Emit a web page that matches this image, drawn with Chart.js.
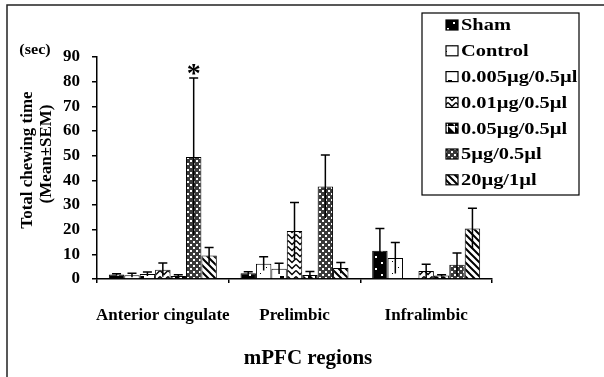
<!DOCTYPE html>
<html>
<head>
<meta charset="utf-8">
<script src="https://cdn.jsdelivr.net/npm/chart.js@4.4.1/dist/chart.umd.min.js"></script>
<style>
  html, body { margin: 0; padding: 0; background: #fff; }
  #wrap { width: 604px; height: 377px; }
</style>
</head>
<body>
<div id="wrap"><canvas id="chewChart" width="604" height="377"></canvas></div>
<script>
const regions = ['Anterior cingulate', 'Prelimbic', 'Infralimbic'];
const groupNames = ['Sham', 'Control', '0.005µg/0.5µl', '0.01µg/0.5µl', '0.05µg/0.5µl', '5µg/0.5µl', '20µg/1µl'];
const yTicks = [0, 10, 20, 30, 40, 50, 60, 70, 80, 90];

// mean values per region
const sham = [1.8, 2.3, 11.5];
const control = [1.5, 6.2, 8.5];
const dose0005 = [2.0, 4.2, 0];
const dose001 = [3.7, 19.5, 3.2];
const dose005 = [1.2, 1.6, 1.4];
const dose5 = [49.5, 37.5, 5.8];
const dose20 = [9.5, 4.5, 20.5];

// SEM per region
const shamErr = [0.3, 0.6, 9.0];
const controlErr = [0.8, 2.8, 6.3];
const dose0005Err = [0.8, 2.2, 0];
const dose001Err = [2.8, 11.5, 2.8];
const dose005Err = [0.5, 1.4, 0.3];
const dose5Err = [32, 12.8, 4.7];
const dose20Err = [3.3, 2.2, 8.2];

// [group index, region index] marked with *
const significant = [[5, 0]];

const SERIF = '"Liberation Serif", "Times New Roman", serif';

function makePattern(w, h, draw) {
  const c = document.createElement('canvas');
  c.width = w; c.height = h;
  const g = c.getContext('2d');
  draw(g, w, h);
  return g.createPattern(c, 'repeat');
}

const patterns = [
  // sham: black, sparse white dots
  makePattern(12, 12, (g, w, h) => {
    g.fillStyle = '#000'; g.fillRect(0, 0, w, h);
    g.fillStyle = '#fff'; g.fillRect(3, 4, 2, 2); g.fillRect(9, 10, 2, 2);
  }),
  // control: white, few dots
  makePattern(12, 12, (g, w, h) => {
    g.fillStyle = '#fff'; g.fillRect(0, 0, w, h);
    g.fillStyle = '#000'; g.fillRect(2, 3, 1, 1); g.fillRect(8, 9, 1, 1);
  }),
  // 0.005: white with small blocks
  makePattern(14, 14, (g, w, h) => {
    g.fillStyle = '#fff'; g.fillRect(0, 0, w, h);
    g.fillStyle = '#000'; g.fillRect(0, 10, 4, 3);
  }),
  // 0.01: chevrons
  makePattern(8, 6, (g, w, h) => {
    g.fillStyle = '#fff'; g.fillRect(0, 0, w, h);
    g.strokeStyle = '#000'; g.lineWidth = 1.4;
    g.beginPath(); g.moveTo(0, 0.5); g.lineTo(4, 4.5); g.lineTo(8, 0.5); g.stroke();
  }),
  // 0.05: half black triangles
  makePattern(7, 7, (g, w, h) => {
    g.fillStyle = '#fff'; g.fillRect(0, 0, w, h);
    g.fillStyle = '#000';
    g.beginPath(); g.moveTo(0, 0); g.lineTo(0, h); g.lineTo(w, h); g.closePath(); g.fill();
  }),
  // 5µg: dark checker with white dots
  makePattern(6, 6, (g, w, h) => {
    g.fillStyle = '#3a3a3a'; g.fillRect(0, 0, w, h);
    g.fillStyle = '#fff'; g.fillRect(1, 1, 2, 2); g.fillRect(4, 4, 2, 2);
  }),
  // 20µg: diagonal stripes
  makePattern(7, 7, (g, w, h) => {
    g.fillStyle = '#fff'; g.fillRect(0, 0, w, h);
    g.strokeStyle = '#000'; g.lineWidth = 2;
    g.beginPath();
    g.moveTo(-1, -1); g.lineTo(w + 1, h + 1);
    g.moveTo(-1, h - 1); g.lineTo(1, h + 1);
    g.moveTo(w - 1, -1); g.lineTo(w + 1, 1);
    g.stroke();
  })
];

const means = [sham, control, dose0005, dose001, dose005, dose5, dose20];
const errs = [shamErr, controlErr, dose0005Err, dose001Err, dose005Err, dose5Err, dose20Err];

const datasets = groupNames.map((name, i) => ({
  label: name,
  data: means[i],
  errors: errs[i],
  backgroundColor: patterns[i],
  borderColor: '#000',
  borderWidth: 1,
  categoryPercentage: 0.82,
  barPercentage: 1.0
}));

const frameAndText = {
  id: 'frameAndText',
  afterDatasetsDraw(chart) {
    const ctx = chart.ctx;
    const y = chart.scales.y;
    ctx.save();
    // error bars
    ctx.strokeStyle = '#000';
    ctx.lineWidth = 1.5;
    chart.data.datasets.forEach((ds, i) => {
      const meta = chart.getDatasetMeta(i);
      meta.data.forEach((bar, j) => {
        const e = ds.errors[j];
        if (!e) return;
        const v = ds.data[j];
        const top = y.getPixelForValue(v + e);
        const bot = y.getPixelForValue(Math.max(0, v - e));
        ctx.beginPath();
        ctx.moveTo(bar.x, bot); ctx.lineTo(bar.x, top);
        ctx.moveTo(bar.x - 4.5, top); ctx.lineTo(bar.x + 4.5, top);
        ctx.stroke();
      });
    });
    // significance stars
    ctx.fillStyle = '#000';
    ctx.font = 'bold 28px ' + SERIF;
    ctx.textAlign = 'center';
    ctx.textBaseline = 'alphabetic';
    significant.forEach(([g, r]) => {
      const bar = chart.getDatasetMeta(g).data[r];
      const ds = chart.data.datasets[g];
      const top = y.getPixelForValue(ds.data[r] + ds.errors[r]);
      ctx.fillText('*', bar.x, top + 4);
    });
    ctx.restore();
  },
  afterDraw(chart) {
    const ctx = chart.ctx;
    ctx.save();
    // outer frame (top and left only visible)
    ctx.strokeStyle = '#222';
    ctx.lineWidth = 1.5;
    ctx.beginPath();
    ctx.moveTo(7, 377); ctx.lineTo(7, 5); ctx.lineTo(604, 5);
    ctx.stroke();

    ctx.fillStyle = '#000';
    // y title
    ctx.save();
    ctx.translate(28, 160);
    ctx.rotate(-Math.PI / 2);
    ctx.textAlign = 'center';
    ctx.textBaseline = 'middle';
    ctx.font = 'bold 17px ' + SERIF;
    ctx.fillText('Total chewing time', 0, 0);
    ctx.fillText('(Mean±SEM)', 6, 19);
    ctx.restore();

    ctx.font = 'bold 14px ' + SERIF;
    ctx.textAlign = 'center';
    ctx.textBaseline = 'middle';
    ctx.save();
    ctx.translate(35, 50); ctx.scale(1.15, 1);
    ctx.fillText('(sec)', 0, 0);
    ctx.restore();

    // x title
    ctx.font = 'bold 21px ' + SERIF;
    ctx.fillText('mPFC regions', 308, 359);

    // legend
    ctx.strokeStyle = '#000';
    ctx.lineWidth = 1.2;
    ctx.fillStyle = '#fff';
    ctx.fillRect(422, 13, 157, 182);
    ctx.strokeRect(422, 13, 157, 182);
    ctx.textAlign = 'left';
    ctx.font = 'bold 17px ' + SERIF;
    chart.data.datasets.forEach((ds, i) => {
      const cy = 25 + i * 25.8;
      ctx.fillStyle = ds.backgroundColor;
      ctx.fillRect(446, cy - 5, 12, 10);
      ctx.strokeRect(446, cy - 5, 12, 10);
      ctx.fillStyle = '#000';
      ctx.save();
      ctx.translate(461, cy + 1);
      ctx.scale(1.2, 1);
      ctx.fillText(ds.label, 0, 0);
      ctx.restore();
    });
    ctx.restore();
  }
};

new Chart(document.getElementById('chewChart'), {
  type: 'bar',
  data: { labels: regions, datasets: datasets },
  plugins: [frameAndText],
  options: {
    responsive: false,
    animation: false,
    layout: { padding: { left: 0, right: 112, top: 57, bottom: 0 } },
    plugins: { legend: { display: false }, tooltip: { enabled: false } },
    scales: {
      x: {
        afterFit(scale) { scale.height = 98; },
        grid: { display: true, drawOnChartArea: false, drawTicks: true, tickLength: 4, color: '#000', lineWidth: 1.5 },
        border: { display: true, color: '#000', width: 1.5 },
        ticks: {
          color: '#000', padding: 22, maxRotation: 0, minRotation: 0, autoSkip: false,
          font: { family: SERIF, size: 17, weight: 'bold' }
        }
      },
      y: {
        min: 0,
        max: 90,
        afterFit(scale) { scale.width = 97; },
        afterBuildTicks(scale) { scale.ticks = yTicks.map(v => ({ value: v })); },
        grid: { display: true, drawOnChartArea: false, drawTicks: true, tickLength: 5, color: '#000', lineWidth: 1.5 },
        border: { display: true, color: '#000', width: 1.5 },
        ticks: { color: '#000', padding: 12, font: { family: SERIF, size: 17, weight: 'bold' } }
      }
    }
  }
});
</script>
</body>
</html>
